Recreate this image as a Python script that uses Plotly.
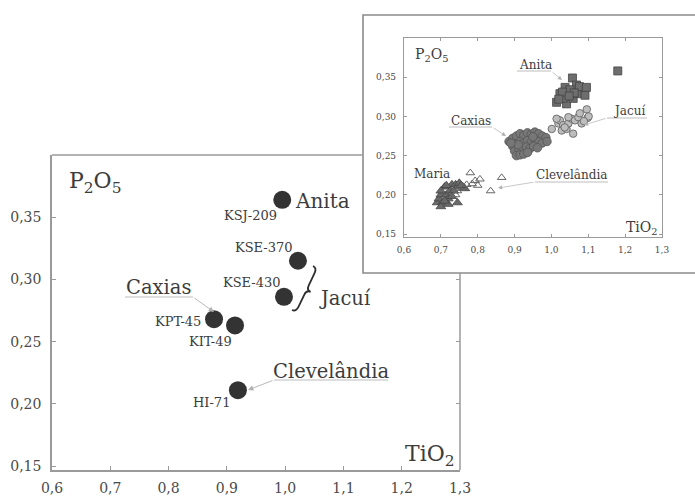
import plotly.graph_objects as go

W, H = 695, 496

# ---------------- data ----------------
# main plot: selected samples
main_samples = ["KSJ-209", "KSE-370", "KSE-430", "KPT-45", "KIT-49", "HI-71"]
main_tio2 = [0.995, 1.022, 0.998, 0.878, 0.914, 0.919]
main_p2o5 = [0.364, 0.315, 0.286, 0.268, 0.263, 0.211]

# inset: full dataset by group
anita_tio2 = [1.057, 1.18, 1.037, 1.068, 1.085, 1.091, 1.045, 1.023, 1.014, 1.041, 1.059, 1.069,
              1.032, 1.05, 1.076, 1.03, 1.062, 1.048, 1.095, 1.02]
anita_p2o5 = [0.349, 0.358, 0.337, 0.340, 0.335, 0.327, 0.329, 0.329, 0.318, 0.316, 0.323, 0.329,
              0.323, 0.334, 0.338, 0.331, 0.330, 0.326, 0.337, 0.322]

jacui_tio2 = [1.001, 1.019, 1.023, 1.032, 1.028, 1.041, 1.046, 1.055, 1.046, 1.064, 1.073, 1.077,
              1.096, 1.098, 1.059, 1.082, 1.014, 1.101, 1.036, 1.088]
jacui_p2o5 = [0.284, 0.291, 0.295, 0.289, 0.282, 0.284, 0.291, 0.297, 0.299, 0.295, 0.299, 0.304,
              0.309, 0.298, 0.278, 0.291, 0.297, 0.300, 0.286, 0.294]

caxias_tio2 = [0.885, 0.895, 0.905, 0.915, 0.925, 0.935, 0.945, 0.955, 0.965, 0.975, 0.985,
               0.895, 0.905, 0.915, 0.925, 0.935, 0.945, 0.955, 0.965, 0.975, 0.988,
               0.900, 0.912, 0.922, 0.932, 0.942, 0.952, 0.962,
               0.905, 0.915, 0.925, 0.935, 0.910, 0.950, 0.890]
caxias_p2o5 = [0.268, 0.272, 0.275, 0.278, 0.276, 0.279, 0.277, 0.280, 0.278, 0.275, 0.273,
               0.262, 0.265, 0.268, 0.266, 0.269, 0.267, 0.270, 0.268, 0.266, 0.268,
               0.256, 0.258, 0.259, 0.261, 0.259, 0.262, 0.260,
               0.250, 0.251, 0.252, 0.254, 0.264, 0.274, 0.266]

maria_tio2 = [0.690, 0.695, 0.700, 0.705, 0.710, 0.715, 0.720, 0.700, 0.725, 0.730, 0.740, 0.745,
              0.750, 0.760, 0.765, 0.735, 0.745, 0.720, 0.710, 0.755, 0.700, 0.715, 0.730]
maria_p2o5 = [0.190, 0.195, 0.200, 0.190, 0.210, 0.200, 0.195, 0.185, 0.205, 0.213, 0.213, 0.210,
              0.215, 0.210, 0.208, 0.205, 0.190, 0.188, 0.192, 0.212, 0.205, 0.212, 0.198]

clev_tio2 = [0.780, 0.793, 0.806, 0.785, 0.800, 0.770, 0.760, 0.835, 0.865, 0.740, 0.745, 0.750]
clev_p2o5 = [0.228, 0.218, 0.220, 0.214, 0.212, 0.213, 0.210, 0.205, 0.222, 0.200, 0.205, 0.208]

x_ticks = [0.6, 0.7, 0.8, 0.9, 1.0, 1.1, 1.2, 1.3]
y_ticks = [0.15, 0.20, 0.25, 0.30, 0.35]
right_ticks = [0.20, 0.25, 0.30]   # main-plot right-edge ticks not hidden by the inset

# ---------------- helpers ----------------
def px(x):
    return x / W

def py(y):
    return 1 - y / H

FONT = "DejaVu Serif"
TXT = "#3c3c3c"
LINE = "#9a9a9a"

fig = go.Figure()

# main points
fig.add_trace(go.Scatter(
    x=main_tio2, y=main_p2o5, mode="markers", xaxis="x", yaxis="y",
    marker=dict(size=18, color="#333333", line=dict(width=0)),
    showlegend=False, hoverinfo="skip"))
# empty helper trace so the right-hand tick axis is drawn
fig.add_trace(go.Scatter(x=[], y=[], xaxis="x", yaxis="y3", showlegend=False, hoverinfo="skip"))

# inset groups
fig.add_trace(go.Scatter(x=caxias_tio2, y=caxias_p2o5, mode="markers", xaxis="x2", yaxis="y2",
    marker=dict(symbol="circle", size=8.5, color="#777777", line=dict(width=0.8, color="#555")),
    showlegend=False, hoverinfo="skip"))
fig.add_trace(go.Scatter(x=jacui_tio2, y=jacui_p2o5, mode="markers", xaxis="x2", yaxis="y2",
    marker=dict(symbol="circle", size=7.5, color="#bdbdbd", line=dict(width=0.9, color="#666")),
    showlegend=False, hoverinfo="skip"))
fig.add_trace(go.Scatter(x=anita_tio2, y=anita_p2o5, mode="markers", xaxis="x2", yaxis="y2",
    marker=dict(symbol="square", size=8, color="#6e6e6e", line=dict(width=0.8, color="#444")),
    showlegend=False, hoverinfo="skip"))
fig.add_trace(go.Scatter(x=maria_tio2, y=maria_p2o5, mode="markers", xaxis="x2", yaxis="y2",
    marker=dict(symbol="triangle-up", size=8.5, color="#6a6a6a", line=dict(width=0.8, color="#444")),
    showlegend=False, hoverinfo="skip"))
fig.add_trace(go.Scatter(x=clev_tio2, y=clev_p2o5, mode="markers", xaxis="x2", yaxis="y2",
    marker=dict(symbol="triangle-up-open", size=7.5, color="#666", line=dict(width=1)),
    showlegend=False, hoverinfo="skip"))

ann = []
# sample labels, offset from their points
offsets = {"KSJ-209": (-32, -16), "KSE-370": (-34, 13), "KSE-430": (-32, 14),
           "KPT-45": (-36, -2), "KIT-49": (-25, -16), "HI-71": (-26, -12)}
for s, xv, yv in zip(main_samples, main_tio2, main_p2o5):
    dx, dy = offsets[s]
    ann.append(dict(x=xv, y=yv, xref="x", yref="y", text=s, showarrow=False,
                    xshift=dx, yshift=dy, font=dict(family=FONT, size=13, color=TXT)))

def label(text, x, y, size, xanchor="center"):
    ann.append(dict(x=px(x), y=py(y), xref="paper", yref="paper", text=text, showarrow=False,
                    xanchor=xanchor, yanchor="middle", font=dict(family=FONT, size=size, color=TXT)))

def arrow(tail, head, width=0.9):
    ann.append(dict(x=px(head[0]), y=py(head[1]), xref="paper", yref="paper", text="",
                    showarrow=True, ax=tail[0] - head[0], ay=tail[1] - head[1],
                    arrowhead=2, arrowsize=1.2, arrowwidth=width, arrowcolor="#b0b0b0"))

shapes = []

def uline(x0, x1, y):
    shapes.append(dict(type="line", xref="paper", yref="paper", x0=px(x0), x1=px(x1),
                       y0=py(y), y1=py(y), line=dict(color="#bdbdbd", width=1)))

def brace(top, bottom, a):
    # curly brace "}" from top to bottom point, cusp pointing right by 2*a px
    import math
    dx, dy = bottom[0] - top[0], bottom[1] - top[1]
    h = math.hypot(dx, dy)
    ux, uy = dx / h, dy / h
    vx, vy = uy, -ux
    if vx < 0:
        vx, vy = -vx, -vy
    def P(u, v):
        X = top[0] + ux * u * h + vx * v
        Y = top[1] + uy * u * h + vy * v
        return f"{px(X):.5f},{py(Y):.5f}"
    path = (f"M {P(0, 0)} Q {P(0, a)} {P(0.12, a)} L {P(0.40, a)} "
            f"Q {P(0.5, a)} {P(0.5, 2 * a)} Q {P(0.5, a)} {P(0.60, a)} "
            f"L {P(0.88, a)} Q {P(1, a)} {P(1, 0)}")
    shapes.append(dict(type="path", xref="paper", yref="paper", path=path,
                       line=dict(color="#2e2e2e", width=1.8)))

# main plot labels
label("Anita", 293, 201, 20, "left")
label("Caxias", 158, 287, 19.5)
uline(125, 193, 297)
arrow((193, 297), (214, 312))
label("Clevelândia", 331, 371, 19.5)
uline(274, 388, 380)
arrow((274, 380), (248, 390))
label("Jacuí", 345, 298, 19.5)
brace((313, 266), (292, 310), 4.5)
label("P<sub>2</sub>O<sub>5</sub>", 67, 182, 22, "left")
ann.append(dict(x=px(457), y=py(455), xref="paper", yref="paper", text="TiO<sub>2</sub>",
                showarrow=False, xanchor="right", yanchor="middle",
                font=dict(family=FONT, size=22, color=TXT)))

# inset labels
label("P<sub>2</sub>O<sub>5</sub>", 413, 55, 14, "left")
ann.append(dict(x=px(660), y=py(228), xref="paper", yref="paper", text="TiO<sub>2</sub>",
                showarrow=False, xanchor="right", yanchor="middle",
                font=dict(family=FONT, size=14, color=TXT)))
label("Anita", 535, 65, 12)
uline(517, 551, 71)
arrow((551, 71), (562, 80), 0.7)
label("Caxias", 471, 121, 12)
uline(449, 492, 127)
arrow((492, 127), (506, 136), 0.7)
label("Jacuí", 629, 111, 12)
uline(607, 647, 118)
arrow((607, 118), (584, 125), 0.7)
label("Maria", 432, 174, 12)
label("Clevelândia", 571, 175, 12)
uline(535, 608, 182)
arrow((535, 182), (498, 188), 0.7)

# frames
shapes.insert(0, dict(type="rect", xref="paper", yref="paper", x0=px(363), x1=px(705),
                      y0=py(273), y1=py(15), fillcolor="white",
                      line=dict(color="#8c8c8c", width=1.6), layer="below"))
shapes.append(dict(type="line", xref="paper", yref="paper", x0=px(52), x1=px(363),
                   y0=py(155), y1=py(155), line=dict(color=LINE, width=1.5), layer="below"))
shapes.append(dict(type="line", xref="paper", yref="paper", x0=px(460), x1=px(460),
                   y0=py(273), y1=py(470), line=dict(color=LINE, width=1.5), layer="below"))

main_axis = dict(showgrid=False, zeroline=False, showline=True, linecolor=LINE, linewidth=1.5,
                 ticks="inside", ticklen=4, tickcolor=LINE,
                 tickfont=dict(family=FONT, size=14, color="#4a4a4a"))
inset_axis = dict(showgrid=False, zeroline=False, showline=True, linecolor=LINE, linewidth=1.2,
                  mirror="ticks", ticks="inside", ticklen=3, tickcolor=LINE,
                  tickfont=dict(family=FONT, size=9, color="#4a4a4a"))

fig.update_layout(
    width=W, height=H, margin=dict(l=0, r=0, t=0, b=0, autoexpand=False),
    paper_bgcolor="white", plot_bgcolor="rgba(0,0,0,0)", separators=",.",
    showlegend=False,
    xaxis=dict(domain=[px(52), px(460)], range=[0.6, 1.3], anchor="y",
               tickvals=x_ticks, tickformat=".1f", ticklabelstandoff=4, **main_axis),
    yaxis=dict(domain=[py(470), py(155)], range=[0.1468, 0.40], anchor="x",
               tickvals=y_ticks, tickformat=".2f", ticklabelstandoff=6, **main_axis),
    yaxis3=dict(overlaying="y", side="right", anchor="x", range=[0.1468, 0.40],
                tickvals=right_ticks, showticklabels=False, showgrid=False, zeroline=False,
                showline=False, ticks="inside", ticklen=4, tickcolor=LINE),
    xaxis2=dict(domain=[px(404), px(662)], range=[0.6, 1.3], anchor="y2",
                tickvals=x_ticks, tickformat=".1f", ticklabelstandoff=4, **inset_axis),
    yaxis2=dict(domain=[py(237), py(38)], range=[0.1462, 0.40], anchor="x2",
                tickvals=y_ticks, tickformat=".2f", ticklabelstandoff=5, **inset_axis),
    annotations=ann, shapes=shapes,
)

fig.write_html("out.html", config={"displayModeBar": False},
               post_script="document.body.style.margin='0px';")
